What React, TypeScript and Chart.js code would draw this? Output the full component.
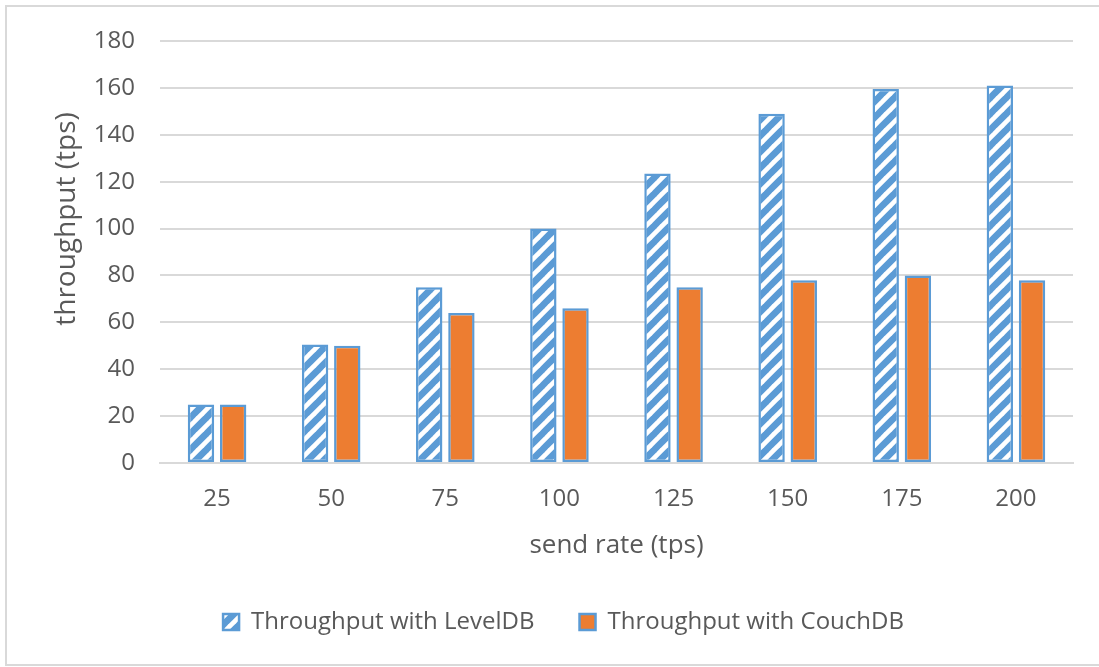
import React, { useEffect, useRef } from "react";
import { Chart, registerables } from "chart.js";

Chart.register(...registerables);

// Send rates (tps) on the x axis
const sendRates: string[] = ["25", "50", "75", "100", "125", "150", "175", "200"];
// Measured throughput (tps)
const levelDbThroughput: number[] = [25, 50.5, 75, 100, 123.5, 149, 159.5, 161];
const couchDbThroughput: number[] = [25, 50, 64, 66, 75, 78, 80, 78];

const seriesNames: string[] = ["Throughput with LevelDB", "Throughput with CouchDB"];
const xTitle = "send rate (tps)";
const yTitle = "throughput (tps)";

const BLUE = "#5B9BD5";
const ORANGE = "#ED7D31";
const TEXT = "#595959";
const GRID = "#D9D9D9";
const FONT = "'Open Sans', 'Noto Sans', sans-serif";

// Upward diagonal stripes, blue on white
function makeStripePattern(): CanvasPattern | string {
  const s = 16;
  const c = document.createElement("canvas");
  c.width = s;
  c.height = s;
  const g = c.getContext("2d");
  if (!g) return BLUE;
  g.fillStyle = "#FFFFFF";
  g.fillRect(0, 0, s, s);
  g.strokeStyle = BLUE;
  g.lineWidth = s / (2 * Math.SQRT2) + 1;
  for (const x0 of [-s, 0, s]) {
    g.beginPath();
    g.moveTo(x0 - 2, s + 2);
    g.lineTo(x0 + s + 2, -2);
    g.stroke();
  }
  const p = g.createPattern(c, "repeat");
  return p || BLUE;
}

const framePlugin = {
  id: "frame",
  beforeDraw(chart: Chart) {
    const ctx = chart.ctx;
    ctx.save();
    ctx.fillStyle = "#FFFFFF";
    ctx.fillRect(0, 0, chart.width, chart.height);
    ctx.strokeStyle = GRID;
    ctx.lineWidth = 2;
    ctx.strokeRect(6, 6, chart.width + 20, chart.height - 8);
    ctx.restore();
  },
};

const axisTitlePlugin = {
  id: "axisTitles",
  afterDraw(chart: Chart) {
    const { ctx, chartArea } = chart;
    ctx.save();
    ctx.fillStyle = TEXT;
    ctx.textAlign = "center";
    ctx.textBaseline = "middle";
    ctx.font = `26px ${FONT}`;
    ctx.fillText(xTitle, (chartArea.left + chartArea.right) / 2, chartArea.bottom + 83);
    ctx.translate(67, (chartArea.top + chartArea.bottom) / 2 - 33);
    ctx.rotate(-Math.PI / 2);
    ctx.font = `28px ${FONT}`;
    ctx.fillText(yTitle, 0, 0);
    ctx.restore();
  },
};

export default function App() {
  const canvasRef = useRef<HTMLCanvasElement | null>(null);

  useEffect(() => {
    if (!canvasRef.current) return;
    const stripes = makeStripePattern();
    const chart = new Chart(canvasRef.current, {
      type: "bar",
      data: {
        labels: sendRates,
        datasets: [
          {
            label: seriesNames[0],
            data: levelDbThroughput,
            backgroundColor: stripes as any,
            borderColor: BLUE,
            borderWidth: 2.5,
            borderSkipped: false,
            categoryPercentage: 0.564,
            barPercentage: 0.82,
          },
          {
            label: seriesNames[1],
            data: couchDbThroughput,
            backgroundColor: ORANGE,
            borderColor: BLUE,
            borderWidth: 2.5,
            borderSkipped: false,
            categoryPercentage: 0.564,
            barPercentage: 0.82,
          },
        ],
      },
      options: {
        animation: false,
        responsive: false,
        maintainAspectRatio: false,
        layout: { padding: { left: 54, right: 26, top: 41, bottom: 23 } },
        plugins: {
          tooltip: { enabled: false },
          legend: {
            position: "bottom",
            labels: {
              boxWidth: 16,
              boxHeight: 16,
              padding: 45,
              color: TEXT,
              font: { family: FONT, size: 24 },
            },
          },
        },
        scales: {
          x: {
            grid: { display: false, drawTicks: false },
            border: { display: true, color: GRID, width: 2 },
            ticks: { color: TEXT, padding: 22, font: { family: FONT, size: 24 } },
            afterFit: (scale: any) => {
              scale.height = 102;
            },
          },
          y: {
            min: 0,
            max: 180,
            ticks: { stepSize: 20, color: TEXT, padding: 25, font: { family: FONT, size: 24 } },
            grid: { color: GRID, lineWidth: 2, drawTicks: false },
            border: { display: false },
            afterFit: (scale: any) => {
              scale.width = 106;
            },
          },
        },
      },
      plugins: [framePlugin, axisTitlePlugin],
    });
    return () => chart.destroy();
  }, []);

  return (
    <div style={{ position: "absolute", left: 0, top: 0, width: 1099, height: 667 }}>
      <canvas ref={canvasRef} width={1099} height={667} style={{ display: "block" }} />
    </div>
  );
}
